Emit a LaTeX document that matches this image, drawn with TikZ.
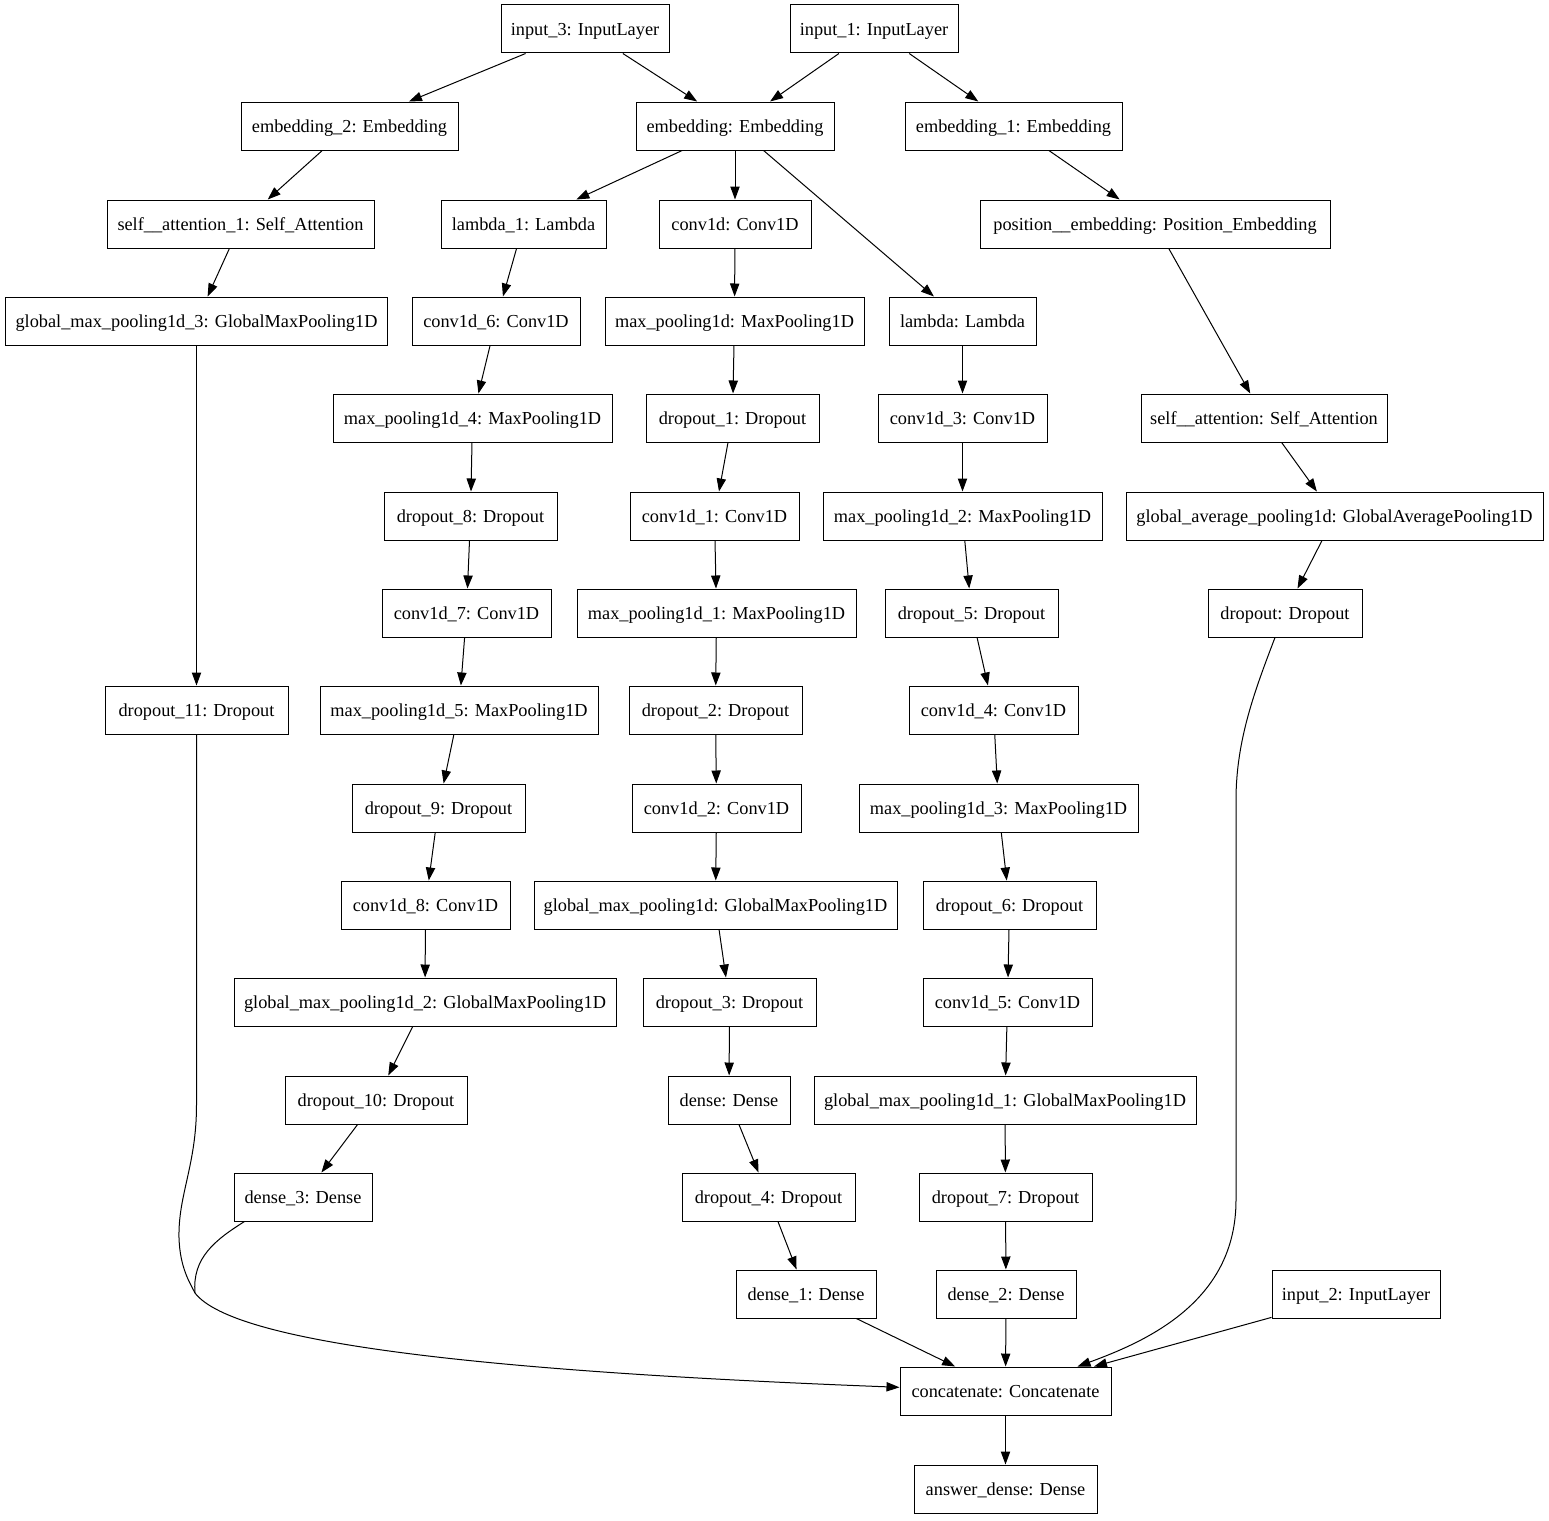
\documentclass[tikz,border=0pt]{standalone}
\usepackage{fontspec}
\setmainfont{Liberation Serif}
\usetikzlibrary{arrows.meta,calc}

\tikzset{
  layer/.style={draw, line width=1pt, rectangle, minimum height=48pt,
    minimum width=#1, inner xsep=4pt, inner ysep=0pt,
    text height=12.2pt, text depth=0pt,
    font=\fontsize{18.3}{22}\selectfont},
  layer/.default=0pt,
  link/.style={line width=1pt, -{Triangle[length=13pt,width=9.3pt]}},
  plain/.style={line width=1pt}
}

\begin{document}
\begin{tikzpicture}[x=1pt,y=-1pt]
\useasboundingbox (0,0) rectangle (1549,1520);

% inputs and embeddings
\node[layer=168pt] (in3) at (585,29) {input\_3: InputLayer};
\node[layer=168pt] (in1) at (874,29) {input\_1: InputLayer};
\node[layer=217pt] (emb2) at (349.5,126) {embedding\_2: Embedding};
\node[layer=198pt] (emb) at (735,126) {embedding: Embedding};
\node[layer=217pt] (emb1) at (1013.5,126) {embedding\_1: Embedding};

% row 3
\node[layer=267pt] (sa1) at (240.5,224) {self\_\_attention\_1: Self\_Attention};
\node[layer=165pt] (lam1) at (523.5,224) {lambda\_1: Lambda};
\node[layer=152pt] (c1d) at (735,224) {conv1d: Conv1D};
\node[layer=350pt] (pos) at (1155,224) {position\_\_embedding: Position\_Embedding};

% row 4
\node[layer=382pt] (gmp3) at (196.5,321) {global\_max\_pooling1d\_3: GlobalMaxPooling1D};
\node[layer=168pt] (c6) at (496,321) {conv1d\_6: Conv1D};
\node[layer=259pt] (mp) at (734.5,321) {max\_pooling1d: MaxPooling1D};
\node[layer=147pt] (lam) at (962.5,321) {lambda: Lambda};

% row 5
\node[layer=279pt] (mp4) at (472.5,418) {max\_pooling1d\_4: MaxPooling1D};
\node[layer=173pt] (do1) at (732.5,418) {dropout\_1: Dropout};
\node[layer=169pt] (c3) at (962.5,418) {conv1d\_3: Conv1D};
\node[layer=246pt] (sa) at (1264,418) {self\_\_attention: Self\_Attention};

% row 6
\node[layer=173pt] (do8) at (470.5,516) {dropout\_8: Dropout};
\node[layer=169pt] (c1) at (714.5,516) {conv1d\_1: Conv1D};
\node[layer=279pt] (mp2) at (962.5,516) {max\_pooling1d\_2: MaxPooling1D};
\node[layer=417pt] (gap) at (1334.5,516) {global\_average\_pooling1d: GlobalAveragePooling1D};

% row 7
\node[layer=169pt] (c7) at (466.5,613) {conv1d\_7: Conv1D};
\node[layer=279pt] (mp1) at (716.5,613) {max\_pooling1d\_1: MaxPooling1D};
\node[layer=173pt] (do5) at (971.5,613) {dropout\_5: Dropout};
\node[layer=154pt] (drop) at (1285,613) {dropout: Dropout};

% row 8
\node[layer=183pt] (do11) at (196.5,710) {dropout\_11: Dropout};
\node[layer=278pt] (mp5) at (459,710) {max\_pooling1d\_5: MaxPooling1D};
\node[layer=173pt] (do2) at (715.5,710) {dropout\_2: Dropout};
\node[layer=169pt] (c4) at (993.5,710) {conv1d\_4: Conv1D};

% row 9
\node[layer=173pt] (do9) at (438.5,808) {dropout\_9: Dropout};
\node[layer=169pt] (c2) at (716.5,808) {conv1d\_2: Conv1D};
\node[layer=279pt] (mp3) at (998.5,808) {max\_pooling1d\_3: MaxPooling1D};

% row 10
\node[layer=169pt] (c8) at (425.5,905) {conv1d\_8: Conv1D};
\node[layer=363pt] (gmp) at (715.5,905) {global\_max\_pooling1d: GlobalMaxPooling1D};
\node[layer=173pt] (do6) at (1009.5,905) {dropout\_6: Dropout};

% row 11
\node[layer=382pt] (gmp2) at (425,1002) {global\_max\_pooling1d\_2: GlobalMaxPooling1D};
\node[layer=173pt] (do3) at (729.5,1002) {dropout\_3: Dropout};
\node[layer=169pt] (c5) at (1007.5,1002) {conv1d\_5: Conv1D};

% row 12
\node[layer=182pt] (do10) at (376,1100) {dropout\_10: Dropout};
\node[layer=122pt] (dense) at (729,1100) {dense: Dense};
\node[layer=382pt] (gmp1) at (1005,1100) {global\_max\_pooling1d\_1: GlobalMaxPooling1D};

% row 13
\node[layer=138pt] (dense3) at (303,1197) {dense\_3: Dense};
\node[layer=173pt] (do4) at (768.5,1197) {dropout\_4: Dropout};
\node[layer=173pt] (do7) at (1005.5,1197) {dropout\_7: Dropout};

% row 14
\node[layer=140pt] (dense1) at (806,1294) {dense\_1: Dense};
\node[layer=140pt] (dense2) at (1006,1294) {dense\_2: Dense};
\node[layer=168pt] (in2) at (1356,1294) {input\_2: InputLayer};

% output
\node[layer=211pt] (concat) at (1005.5,1391) {concatenate: Concatenate};
\node[layer=183pt] (ans) at (1005.5,1489) {answer\_dense: Dense};

% straight connections
\foreach \a/\b in {in3/emb2, in3/emb, in1/emb, in1/emb1,
  emb2/sa1, emb/lam1, emb/c1d, emb/lam, emb1/pos,
  sa1/gmp3, gmp3/do11, lam1/c6, c1d/mp, pos/sa,
  c6/mp4, mp/do1, lam/c3, mp4/do8, do1/c1, c3/mp2, sa/gap,
  do8/c7, c1/mp1, mp2/do5, gap/drop,
  c7/mp5, mp1/do2, do5/c4,
  mp5/do9, do2/c2, c4/mp3,
  do9/c8, c2/gmp, mp3/do6,
  c8/gmp2, gmp/do3, do6/c5,
  gmp2/do10, do3/dense, c5/gmp1,
  do10/dense3, dense/do4, gmp1/do7,
  do4/dense1, do7/dense2,
  dense1/concat, dense2/concat, in2/concat,
  concat/ans}
  \draw[link] (\a) -- (\b);

% the two left branches meet before entering the concatenation
\coordinate (join) at (195,1293);
\draw[plain] (do11.south) -- (196.5,1105)
  .. controls (196.5,1165) and (178,1195) .. (179,1238)
  .. controls (180,1268) and (190,1283) .. (join);
\draw[plain] ($(dense3.south west)+(11,0)$)
  .. controls (215,1240) and (192,1258) .. (join);
\draw[link] (join) .. controls (235,1345) and (500,1372) .. (concat.178);

% long branch on the right
\draw[link] ($(drop.south)+(-10,0)$)
  .. controls (1255,690) and (1236,740) .. (1236,800)
  -- (1236,1200)
  .. controls (1236,1300) and (1150,1340) .. ($(concat.north)+(72,0)$);

\end{tikzpicture}
\end{document}
